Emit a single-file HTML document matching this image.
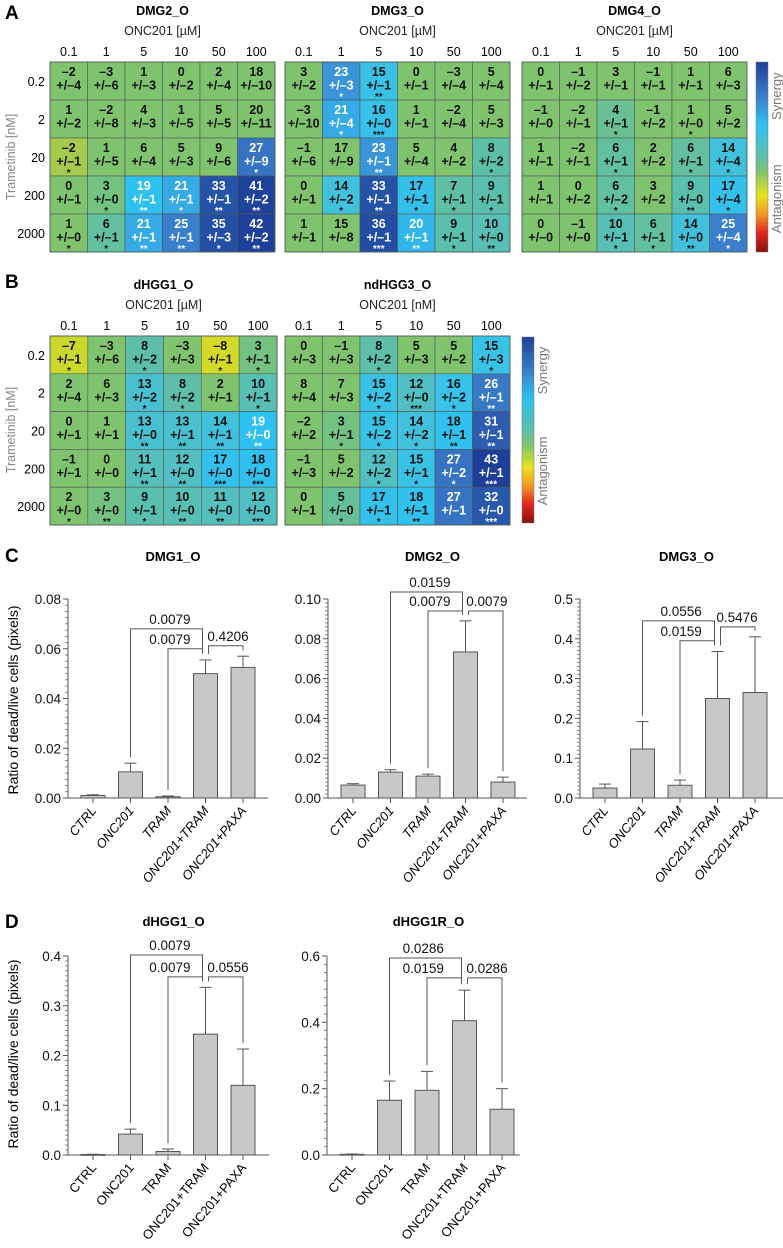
<!DOCTYPE html>
<html><head><meta charset="utf-8"><style>
html,body{margin:0;padding:0;background:#fff;}
svg{display:block;font-family:"Liberation Sans",Arial,sans-serif;}
</style></head><body>
<svg id="fig" width="783" height="1248" viewBox="0 0 783 1248" xmlns="http://www.w3.org/2000/svg">
<defs>
<linearGradient id="cbar" x1="0" y1="0" x2="0" y2="1">
<stop offset="0" stop-color="#1d3f97"/><stop offset="0.18" stop-color="#3a7fcb"/><stop offset="0.33" stop-color="#2ec0f0"/>
<stop offset="0.5" stop-color="#5dbfa8"/><stop offset="0.58" stop-color="#80c36c"/><stop offset="0.7" stop-color="#e6e31f"/>
<stop offset="0.8" stop-color="#f39a26"/><stop offset="0.9" stop-color="#e0261e"/><stop offset="1" stop-color="#8a1010"/>
</linearGradient>
</defs>
<text x="5" y="19" font-size="19" font-weight="bold">A</text>
<text x="5" y="288" font-size="19" font-weight="bold">B</text>
<text x="5" y="562" font-size="19" font-weight="bold">C</text>
<text x="5" y="928" font-size="19" font-weight="bold">D</text>
</svg>
<script>
// ---------- heatmap data ----------
const colLabels = ['0.1','1','5','10','50','100'];
const rowLabels = ['0.2','2','20','200','2000'];
const dmg2Vals = [[-2,-3,1,0,2,18],[1,-2,4,1,5,20],[-2,1,6,5,9,27],[0,3,19,21,33,41],[1,6,21,25,35,42]];
const dmg2Errs = [[4,6,3,2,4,10],[2,8,3,5,5,11],[1,5,4,3,6,9],[1,0,1,1,1,2],[0,1,1,1,3,2]];
const dmg2Stars = [[0,0,0,0,0,0],[0,0,0,0,0,0],[1,0,0,0,0,1],[0,1,2,1,2,2],[1,1,2,2,1,2]];
const dmg3Vals = [[3,23,15,0,-3,5],[-3,21,16,1,-2,5],[-1,17,23,5,4,8],[0,14,33,17,7,9],[1,15,36,20,9,10]];
const dmg3Errs = [[2,3,1,1,4,4],[10,4,0,1,4,3],[6,9,1,4,2,2],[1,2,1,1,1,1],[1,8,1,1,1,0]];
const dmg3Stars = [[0,1,2,0,0,0],[0,1,3,0,0,0],[0,0,2,0,0,1],[0,1,2,1,1,1],[0,0,3,2,1,2]];
const dmg4Vals = [[0,-1,3,-1,1,6],[-1,-2,4,-1,1,5],[1,-2,6,2,6,14],[1,0,6,3,9,17],[0,-1,10,6,14,25]];
const dmg4Errs = [[1,2,1,1,1,3],[0,1,1,2,0,2],[1,1,1,2,1,4],[1,2,2,2,0,4],[0,0,1,1,0,4]];
const dmg4Stars = [[0,0,0,0,0,0],[0,0,1,0,1,0],[0,0,1,0,1,1],[0,0,1,0,2,1],[0,0,1,1,2,1]];
const hgg1Vals = [[-7,-3,8,-3,-8,3],[2,6,13,8,2,10],[0,1,13,13,14,19],[-1,0,11,12,17,18],[2,3,9,10,11,12]];
const hgg1Errs = [[1,6,2,3,1,1],[4,3,2,2,1,1],[1,1,0,1,1,0],[1,0,1,0,0,0],[0,0,1,0,0,0]];
const hgg1Stars = [[1,0,1,0,1,1],[0,0,1,1,0,1],[0,0,2,2,2,2],[0,0,2,2,3,3],[1,2,1,2,2,3]];
const hgg3Vals = [[0,-1,8,5,5,15],[8,7,15,12,16,26],[-2,3,15,14,18,31],[-1,5,12,15,27,43],[0,5,17,18,27,32]];
const hgg3Errs = [[3,3,2,3,2,3],[4,3,2,0,2,1],[2,1,2,2,1,1],[3,2,2,1,2,1],[1,0,1,1,1,0]];
const hgg3Stars = [[0,0,1,0,0,1],[0,0,1,3,1,2],[0,1,1,1,2,2],[0,0,1,1,1,3],[0,1,1,2,0,3]];

// ---------- bar chart data ----------
const barCats = ['CTRL','ONC201','TRAM','ONC201+TRAM','ONC201+PAXA'];
const c1Means = [0.001,0.0105,0.0005,0.050,0.0525];
const c1Errs = [0.0003,0.0035,0.0003,0.0055,0.0045];
const c1Ticks = ['0.00','0.02','0.04','0.06','0.08'];
const c2Means = [0.0065,0.013,0.011,0.0734,0.008];
const c2Errs = [0.0007,0.0012,0.001,0.0156,0.0025];
const c2Ticks = ['0.00','0.02','0.04','0.06','0.08','0.10'];
const c3Means = [0.025,0.123,0.032,0.25,0.265];
const c3Errs = [0.01,0.069,0.013,0.118,0.14];
const c3Ticks = ['0.0','0.1','0.2','0.3','0.4','0.5'];
const d1Means = [0.001,0.042,0.007,0.243,0.14];
const d1Errs = [0.0005,0.01,0.005,0.094,0.073];
const d1Ticks = ['0.0','0.1','0.2','0.3','0.4'];
const d2Means = [0.002,0.165,0.195,0.405,0.138];
const d2Errs = [0.001,0.058,0.057,0.092,0.062];
const d2Ticks = ['0.0','0.2','0.4','0.6'];
// brackets: [from, to, level, p-value, labelIndex]
const c1Pvals = [[1,3,0.068,'0.0079',2.05],[2,3,0.060,'0.0079',2.05],[3,4,0.0612,'0.4206',3.6]];
const c2Pvals = [[1,3,0.1035,'0.0159',2.05],[2,3,0.094,'0.0079',2.05],[3,4,0.094,'0.0079',3.57]];
const c3Pvals = [[1,3,0.445,'0.0556',2.03],[2,3,0.395,'0.0159',2.03],[3,4,0.43,'0.5476',3.52]];
const d1Pvals = [[1,3,0.402,'0.0079',2.05],[2,3,0.358,'0.0079',2.05],[3,4,0.358,'0.0556',3.6]];
const d2Pvals = [[1,3,0.594,'0.0286',1.9],[2,3,0.534,'0.0159',1.9],[3,4,0.534,'0.0286',3.6]];

const NS='http://www.w3.org/2000/svg';
const svg=document.getElementById('fig');
function mk(tag,attrs,parent){const e=document.createElementNS(NS,tag);for(const k in attrs)e.setAttribute(k,attrs[k]);(parent||svg).appendChild(e);return e;}
function txt(x,y,s,attrs,parent){const e=mk('text',Object.assign({x:x,y:y},attrs||{}),parent);e.textContent=s;return e;}

const cstops=[[-8,[210,218,39]],[-2,[165,202,77]],[-1,[130,196,106]],[2,[127,195,110]],[4,[104,192,148]],[9,[91,191,173]],[12,[82,191,196]],[15,[56,194,230]],[19,[46,192,240]],[22,[56,159,223]],[25,[58,127,203]],[29,[50,102,184]],[33,[37,83,168]],[43,[29,63,151]]];
function cmap(v){if(v<=cstops[0][0])return 'rgb('+cstops[0][1]+')';for(let i=1;i<cstops.length;i++){if(v<=cstops[i][0]){const a=cstops[i-1],b=cstops[i];const t=(v-a[0])/(b[0]-a[0]);return 'rgb('+a[1].map((c,k)=>Math.round(c+(b[1][k]-c)*t)).join(',')+')';}}return 'rgb('+cstops[cstops.length-1][1]+')';}

function heatmap(name,x0,x1,y0,y1,title,unit,vals,errs,stars,showRows){
  const g=mk('g',{});
  
  
  const cw=(x1-x0)/colLabels.length, ch=(y1-y0)/rowLabels.length;
  const t=txt((x0+x1)/2,y0-47,title,{'font-size':12.5,'font-weight':'bold','text-anchor':'middle'},g);
  
  
  const u=txt((x0+x1)/2,y0-27,unit,{'font-size':12.5,'text-anchor':'middle',fill:'#222'},g);
  
  
  colLabels.forEach((c,j)=>{const e=txt(x0+cw*(j+0.5),y0-6,c,{'font-size':12.5,'text-anchor':'middle'},g);
    
    });
  if(showRows){rowLabels.forEach((r,i)=>{const e=txt(x0-5,y0+ch*(i+0.5)+5,r,{'font-size':12.5,'text-anchor':'end'},g);
    
    });}
  for(let i=0;i<rowLabels.length;i++)for(let j=0;j<colLabels.length;j++){
    const v=vals[i][j],er=errs[i][j],s=stars[i][j];
    const colored=s>0||(er<=1&&v>=5);
    const fill=colored?cmap(v):'#80c36e';
    const cx=x0+cw*j,cy=y0+ch*i;
    const r=mk('rect',{x:cx,y:cy,width:cw,height:ch,fill:fill,stroke:'#4d5a55','stroke-width':0.6},g);
    
    
    const tc=(colored&&v>=19)?'#fff':'#111';
    const neg=v<0?'–'+Math.abs(v):String(v);
    const a=txt(cx+cw/2,cy+14,neg,{'font-size':12.5,'font-weight':'bold','text-anchor':'middle',fill:tc},g);
    
    
    const b=txt(cx+cw/2,cy+27.5,'+/–'+er,{'font-size':12.5,'font-weight':'bold','text-anchor':'middle',fill:tc},g);
    
    
    if(s>0){const st=txt(cx+cw/2,cy+38,'*'.repeat(s),{'font-size':10,'font-weight':'bold','text-anchor':'middle',fill:tc},g);
      
      }
  }
  const bd=mk('rect',{x:x0,y:y0,width:x1-x0,height:y1-y0,fill:'none',stroke:'#4d5a55','stroke-width':0.8},g);
  
  
}
function colorbar(name,x,y0,y1){
  const r=mk('rect',{x:x,y:y0,width:12,height:y1-y0,fill:'url(#cbar)',stroke:'#777','stroke-width':0.5});
  
  
  const h=y1-y0;
  const s=txt(0,0,'Synergy',{'font-size':13,fill:'#777','text-anchor':'middle',transform:'translate('+(x+25)+','+(y0+h*0.18)+') rotate(-90)'});
  
  
  const a=txt(0,0,'Antagonism',{'font-size':13,fill:'#777','text-anchor':'middle',transform:'translate('+(x+25)+','+(y0+h*0.72)+') rotate(-90)'});
  
  
}
function rowTitle(name,cy){
  const t=txt(0,0,'Trametinib [nM]',{'font-size':12.5,fill:'#888','text-anchor':'middle',transform:'translate(15,'+cy+') rotate(-90)'});
  
  
}

heatmap('heatmap-dmg2',50,275,62,252,'DMG2_O','ONC201 [µM]',dmg2Vals,dmg2Errs,dmg2Stars,true);
heatmap('heatmap-dmg3',285,510,62,252,'DMG3_O','ONC201 [µM]',dmg3Vals,dmg3Errs,dmg3Stars,false);
heatmap('heatmap-dmg4',522,747,62,252,'DMG4_O','ONC201 [µM]',dmg4Vals,dmg4Errs,dmg4Stars,false);
colorbar('colorbar-a',756,62,252);
rowTitle('y-axis-title-a',157);
heatmap('heatmap-dhgg1',50,277,336,525,'dHGG1_O','ONC201 [µM]',hgg1Vals,hgg1Errs,hgg1Stars,true);
heatmap('heatmap-ndhgg3',285,510,336,525,'ndHGG3_O','ONC201 [nM]',hgg3Vals,hgg3Errs,hgg3Stars,false);
colorbar('colorbar-b',522,337,523);
rowTitle('y-axis-title-b',430);

function barChart(name,ax,axEnd,yTop,yBot,maxV,ticks,minorDiv,means,errs,pvals,title,titleY,italic){
  const g=mk('g',{});
  
  
  const sy=v=>yBot-(v/maxV)*(yBot-yTop);
  const sx=i=>ax+25+i*37.5;
  const tt=txt((ax+axEnd)/2+5,titleY,title,{'font-size':13,'font-weight':'bold','text-anchor':'middle'},g);
  
  
  const ya=mk('line',{x1:ax,y1:yTop,x2:ax,y2:yBot,stroke:'#555','stroke-width':1},g);
  
  
  const xa=mk('line',{x1:ax,y1:yBot,x2:axEnd,y2:yBot,stroke:'#555','stroke-width':1},g);
  
  
  const n=ticks.length-1;
  for(let k=0;k<=n*minorDiv;k++){
    const y=yBot-(k/(n*minorDiv))*(yBot-yTop);
    const major=k%minorDiv===0;
    const tk=mk('line',{x1:ax-(major?5:3),y1:y,x2:ax,y2:y,stroke:'#555','stroke-width':major?1:0.7},g);
    
    
  }
  ticks.forEach((t,k)=>{const y=yBot-(k/n)*(yBot-yTop);
    const e=txt(ax-7,y+5,t,{'font-size':13.5,'text-anchor':'end',fill:'#111'},g);
    
    });
  barCats.forEach((c,i)=>{
    const cx=sx(i);
    const top=sy(means[i]),et=sy(means[i]+errs[i]);
    const eb=mk('line',{x1:cx,y1:top,x2:cx,y2:et,stroke:'#555','stroke-width':1},g);
    
    
    const cap=mk('line',{x1:cx-6,y1:et,x2:cx+6,y2:et,stroke:'#555','stroke-width':1},g);
    
    
    const b=mk('rect',{x:cx-12,y:top,width:24,height:Math.max(yBot-top,0.8),fill:'#c8c8c8',stroke:'#555','stroke-width':1},g);
    
    
    const xt=mk('line',{x1:cx,y1:yBot,x2:cx,y2:yBot+5,stroke:'#555','stroke-width':1},g);
    
    
    const l=txt(0,0,c,{'font-size':13,'text-anchor':'end','font-style':italic?'italic':'normal',transform:'translate('+(cx+4)+','+(yBot+13)+') rotate(-50)'},g);
    
    
  });
  pvals.forEach(p=>{
    const [i,j,lev,lab,li]=p;
    const xl=sx(i)+(i===3?3:0), xr=sx(j)+(j===3?-3:0);
    const ly=sy(lev);
    const y1=sy(means[i]+errs[i])-6, y2=sy(means[j]+errs[j])-6;
    const path=mk('path',{d:'M'+xl+','+y1+'V'+ly+'H'+xr+'V'+y2,fill:'none',stroke:'#555','stroke-width':1},g);
    
    
    const pl=txt(sx(li),ly-5,lab,{'font-size':13.5,'text-anchor':'middle',fill:'#111'},g);
    
    
  });
}
barChart('chart-dmg1',68,268,599,798,0.08,c1Ticks,8,c1Means,c1Errs,c1Pvals,'DMG1_O',561,true);
barChart('chart-dmg2',328,527,599,798,0.10,c2Ticks,10,c2Means,c2Errs,c2Pvals,'DMG2_O',561,true);
barChart('chart-dmg3',580,783,599,798,0.5,c3Ticks,10,c3Means,c3Errs,c3Pvals,'DMG3_O',561,true);
barChart('chart-dhgg1',68,269,956,1155,0.4,d1Ticks,10,d1Means,d1Errs,d1Pvals,'dHGG1_O',926,false);
barChart('chart-dhgg1r',327,520,956,1155,0.6,d2Ticks,8,d2Means,d2Errs,d2Pvals,'dHGG1R_O',926,false);

const yl1=txt(0,0,'Ratio of dead/live cells (pixels)',{'font-size':14,'text-anchor':'middle',transform:'translate(18,700) rotate(-90)'});


const yl2=txt(0,0,'Ratio of dead/live cells (pixels)',{'font-size':14,'text-anchor':'middle',transform:'translate(18,1054) rotate(-90)'});


</script>
</body></html>
